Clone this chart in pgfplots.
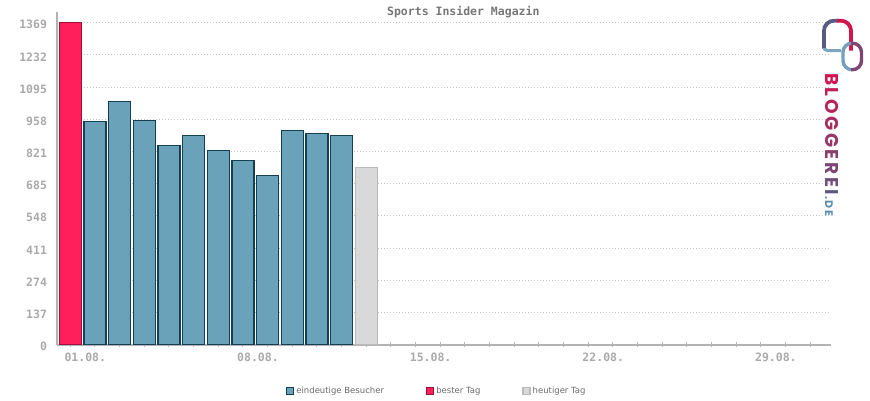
\documentclass[border=0pt]{standalone}
\usepackage{pgfplots}
\pgfplotsset{compat=1.18}
\usepackage{fontspec}
\setmainfont{DejaVu Sans}
\newfontfamily\monofont{DejaVu Sans Mono}
\newfontfamily\logofont{Poppins}
\definecolor{axgray}{HTML}{B3B3B3}
\definecolor{lblgray}{HTML}{AAAAAA}
\definecolor{titlegray}{HTML}{777777}
\definecolor{gridgray}{HTML}{C4C4C4}
\definecolor{bluefill}{HTML}{6AA2B9}
\definecolor{bluedraw}{HTML}{153F54}
\definecolor{redfill}{HTML}{FF1F5B}
\definecolor{reddraw}{HTML}{A0103E}
\definecolor{grayfill}{HTML}{D9D9D9}
\definecolor{graydraw}{HTML}{BBBBBB}
\definecolor{legtext}{HTML}{6A6A6A}
\definecolor{logoA}{HTML}{D0154F}
\definecolor{logoB}{HTML}{5C5A82}
\definecolor{logoC}{HTML}{5B8FB0}
\newcommand{\lk}{\kern2.6pt}
\begin{document}
\begin{tikzpicture}
\path (-57pt,-55.3pt) rectangle (813pt,344.7pt);
\begin{axis}[
  at={(0pt,0pt)}, anchor=south west,
  scale only axis,
  width=773.7pt, height=332.4pt,
  xmin=0.46, xmax=31.83, ymin=0, ymax=1413,
  axis lines*=left,
  axis line style={draw=axgray, line width=2pt},
  ytick={0,137,274,411,548,685,821,958,1095,1232,1369},
  ymajorgrids,
  grid style={draw=gridgray, line width=0.8pt, dash pattern=on 1pt off 2pt},
  ytick style={draw=none},
  xtick={1,...,31},
  xticklabels={01.08.,,,,,,,08.08.,,,,,,,15.08.,,,,,,,22.08.,,,,,,,29.08.,,,},
  xtick style={draw=axgray, line width=1pt},
  tick align=center,
  major tick length=5pt,
  /pgf/number format/assume math mode=true,
  /pgf/number format/1000 sep={},
  tick label style={font=\monofont\bfseries\fontsize{11.5}{12}\selectfont, text=lblgray},
  xticklabel style={xshift=15pt, yshift=-2.5pt},
  yticklabel style={xshift=-4pt, yshift=-2pt},
  legend style={at={(0.491,-0.139)}, anchor=center, draw=none, fill=none,
    legend columns=3, font=\fontsize{8.5}{10}\selectfont\color{legtext},
    /tikz/every even column/.append style={column sep=40pt},
    inner sep=0pt},
  legend cell align=left,
  legend image code/.code={\draw[#1, line width=1.2pt] (0pt,-3.5pt) rectangle (7pt,3.5pt);},
]
\addplot[ybar, bar width=22pt, bar shift=0pt, fill=bluefill, draw=bluedraw, line width=1.2pt]
  coordinates {(2,950) (3,1035) (4,954) (5,848) (6,890) (7,826) (8,784) (9,720) (10,911) (11,899) (12,890)};
\addlegendentry{eindeutige Besucher}
\addplot[ybar, bar width=22pt, bar shift=0pt, fill=redfill, draw=reddraw, line width=1.2pt]
  coordinates {(1,1369)};
\addlegendentry{bester Tag}
\addplot[ybar, bar width=22pt, bar shift=0pt, fill=grayfill, draw=graydraw, line width=1.2pt]
  coordinates {(13,754)};
\addlegendentry{heutiger Tag}
\end{axis}
% title
\node[font=\monofont\bfseries\fontsize{11.5}{12}\selectfont, text=titlegray] at (406.3pt,332.2pt) {Sports Insider Magazin};
% logo icon
\draw[line width=3.8pt, draw=logoB, rounded corners=10pt] (767pt,296pt) -- (767pt,324pt) -- (781pt,324pt);
\draw[line width=3.8pt, draw=logoA, rounded corners=10pt] (780pt,324pt) -- (794pt,324pt) -- (794pt,294pt);
\draw[line width=3pt, draw=logoC!80, rounded corners=2pt] (767pt,296pt) -- (769pt,294pt) -- (784pt,294pt);
\draw[line width=3.4pt, draw=logoC!85, rounded corners=9pt] (795pt,275pt) -- (786pt,275pt) -- (786pt,301.5pt) -- (795pt,301.5pt);
\draw[line width=3.4pt, draw=logoB!70!logoA, rounded corners=9pt] (794pt,301.5pt) -- (804.5pt,301.5pt) -- (804.5pt,275pt) -- (794pt,275pt);
% logo text
\node[rotate=-90, anchor=base west, inner sep=0pt, font=\logofont\bfseries\fontsize{18.5}{19}\selectfont] at (768pt,271.7pt)
  {\textcolor{logoA}{B}\lk\textcolor{logoA!88!logoB}{L}\lk\textcolor{logoA!76!logoB}{O}\lk\textcolor{logoA!64!logoB}{G}\lk\textcolor{logoA!52!logoB}{G}\lk\textcolor{logoA!40!logoB}{E}\lk\textcolor{logoA!28!logoB}{R}\lk\textcolor{logoA!16!logoB}{E}\lk\textcolor{logoB}{I}\kern1pt\textcolor{logoC}{\fontsize{11}{12}\selectfont.\kern1.5pt D\kern1.5pt E}};
\end{tikzpicture}
\end{document}
